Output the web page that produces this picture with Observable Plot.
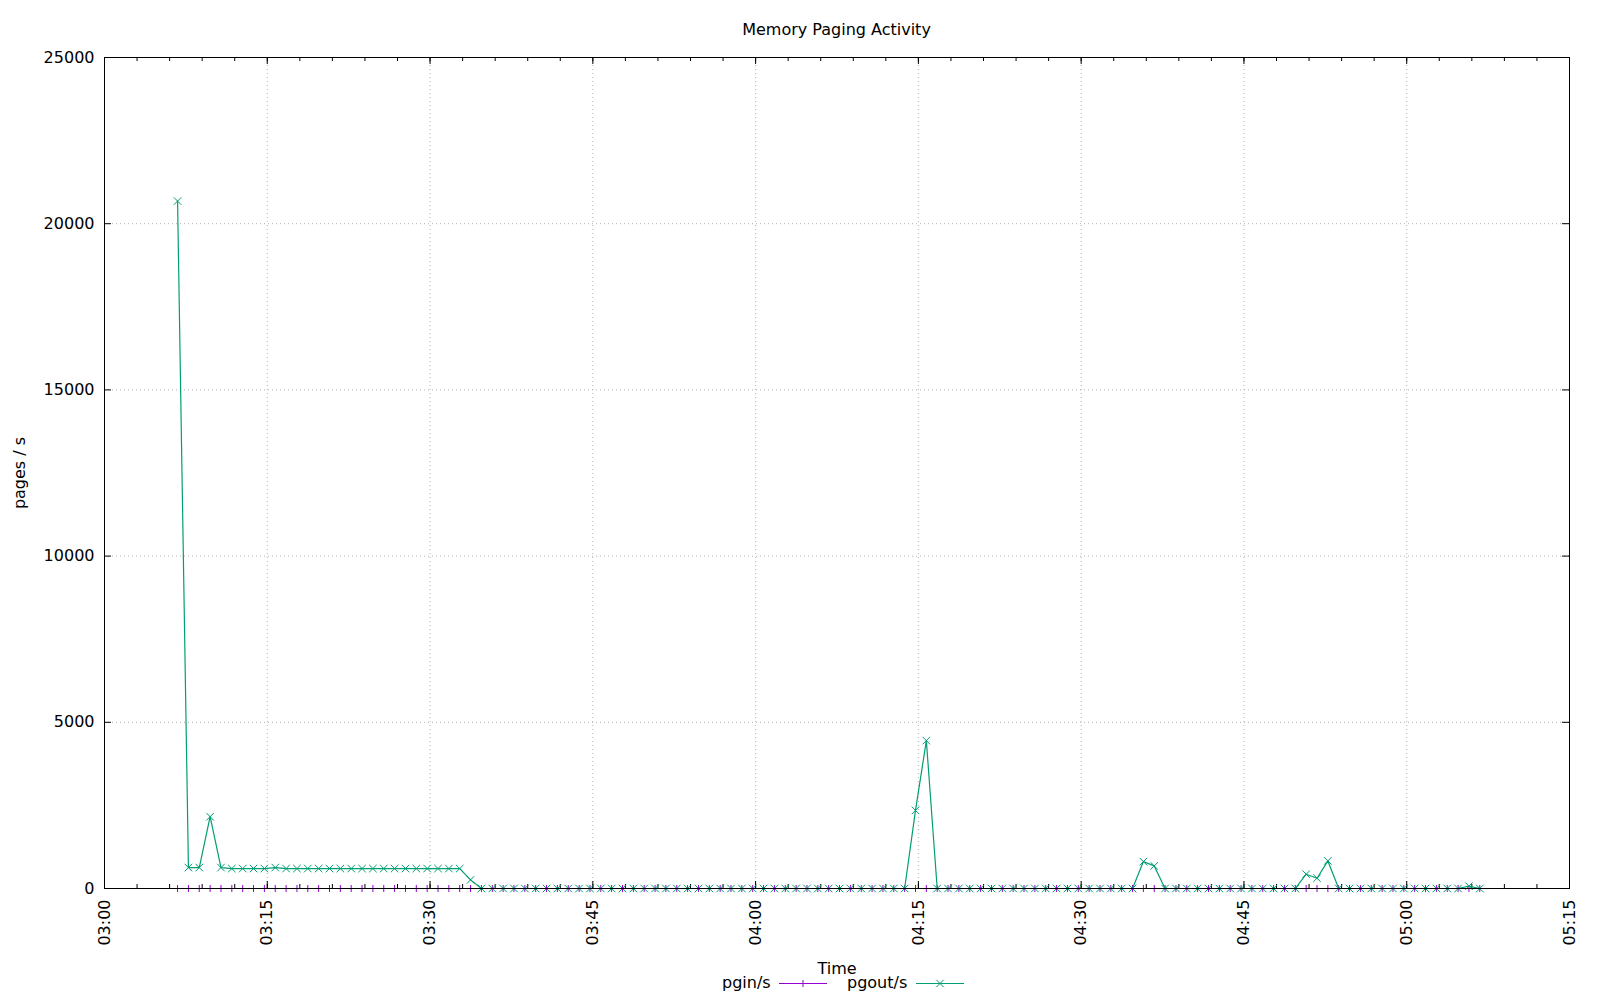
<!DOCTYPE html>
<html>
<head>
<meta charset="utf-8">
<script src="https://cdn.jsdelivr.net/npm/d3@7"></script>
<script src="https://cdn.jsdelivr.net/npm/@observablehq/plot@0.6"></script>
<style>
  html, body { margin: 0; padding: 0; background: #fff; }
  body { width: 1600px; height: 1000px; overflow: hidden; font-family: "DejaVu Sans", sans-serif; color: #000; }
  #title { box-sizing: border-box; height: 40px; padding-top: 22px; padding-left: 73px; width: 1600px; text-align: center; font-size: 16px; line-height: 16px; }
  #chart svg { display: block; }
  #legend { position: relative; height: 26px; width: 1600px; font-size: 16px; line-height: 16px; }
  #legend .lbl { position: absolute; top: 1px; white-space: nowrap; }
  #legend svg { position: absolute; top: 4px; overflow: visible; }
</style>
</head>
<body>
<div id="title">Memory Paging Activity</div>
<div id="chart"></div>
<div id="legend"></div>
<script>
// ---- data (sar samples, one per minute, at :44 s) ----
const times = [
  "03:06","03:07","03:08","03:09","03:10","03:11","03:12","03:13","03:14","03:15",
  "03:16","03:17","03:18","03:19","03:20","03:21","03:22","03:23","03:24","03:25",
  "03:26","03:27","03:28","03:29","03:30","03:31","03:32","03:33","03:34","03:35",
  "03:36","03:37","03:38","03:39","03:40","03:41","03:42","03:43","03:44","03:45",
  "03:46","03:47","03:48","03:49","03:50","03:51","03:52","03:53","03:54","03:55",
  "03:56","03:57","03:58","03:59","04:00","04:01","04:02","04:03","04:04","04:05",
  "04:06","04:07","04:08","04:09","04:10","04:11","04:12","04:13","04:14","04:15",
  "04:16","04:17","04:18","04:19","04:20","04:21","04:22","04:23","04:24","04:25",
  "04:26","04:27","04:28","04:29","04:30","04:31","04:32","04:33","04:34","04:35",
  "04:36","04:37","04:38","04:39","04:40","04:41","04:42","04:43","04:44","04:45",
  "04:46","04:47","04:48","04:49","04:50","04:51","04:52","04:53","04:54","04:55",
  "04:56","04:57","04:58","04:59","05:00","05:01","05:02","05:03","05:04","05:05",
  "05:06"
];
const pgout = [
  20680, 630, 630, 2160, 630, 600, 600, 600, 600, 630,
  600, 600, 600, 600, 600, 600, 600, 600, 600, 600,
  600, 600, 600, 600, 600, 600, 600, 260, 0, 0,
  0, 0, 0, 0, 0, 0, 0, 0, 0, 0,
  0, 0, 0, 0, 0, 0, 0, 0, 0, 0,
  0, 0, 0, 0, 0, 0, 0, 0, 0, 0,
  0, 0, 0, 0, 0, 0, 0, 0, 2350, 4450,
  0, 0, 0, 0, 0, 0, 0, 0, 0, 0,
  0, 0, 0, 0, 0, 0, 0, 0, 0, 810,
  680, 0, 0, 0, 0, 0, 0, 0, 0, 0,
  0, 0, 0, 0, 430, 310, 830, 0, 0, 0,
  0, 0, 0, 0, 0, 0, 0, 0, 0, 70,
  0
];
const pgin = [
  0,0,0,0,0,0,0,0,0,0, 0,0,0,0,0,0,0,0,0,0,
  0,0,0,0,0,0,0,0,0,0, 0,0,0,0,0,0,0,0,0,0,
  0,0,0,0,0,0,0,0,0,0, 0,0,0,0,0,0,0,0,0,0,
  0,0,0,0,0,0,0,0,0,0, 0,0,0,0,0,0,0,0,0,0,
  0,0,0,0,0,0,0,0,0,0, 0,0,0,0,0,0,0,0,0,0,
  0,0,0,0,0,0,0,0,0,0, 0,0,0,0,0,0,0,0,0,0,
  0
];
const xTickLabels = ["03:00","03:15","03:30","03:45","04:00","04:15","04:30","04:45","05:00","05:15"];
const yTickValues = [0, 5000, 10000, 15000, 20000, 25000];
const seriesNames = ["pgin/s", "pgout/s"];
const seriesColors = ["#9400d3", "#009e73"];

// ---- build ----
const parseT = s => new Date(`2024-01-01T${s.length === 5 ? s + ":44" : s}Z`);
const parseTick = s => new Date(`2024-01-01T${s}:00Z`);
const rows = times.map((t, i) => ({t: parseT(t), pgin: pgin[i], pgout: pgout[i]}));
const majorTicks = xTickLabels.map(parseTick);
const xDomain = [majorTicks[0], majorTicks[majorTicks.length - 1]];
const minorTicks = d3.utcMinute.every(3).range(xDomain[0], new Date(+xDomain[1] + 1));
const innerMajor = majorTicks.slice(1, -1);
const innerY = yTickValues.slice(1, -1);

const W = 1600, H = 934, mT = 17, mB = 86, mL = 104, mR = 31;
const plotH = H - mT - mB, plotW = W - mL - mR;
const gridStyle = {stroke: "#b0b0b0", strokeOpacity: 1, strokeWidth: 1, strokeDasharray: "1,3"};
const plusR = 2.4, timesR = 3.5;

const chart = Plot.plot({
  width: W, height: H,
  marginTop: mT, marginBottom: mB, marginLeft: mL, marginRight: mR,
  style: {fontFamily: "DejaVu Sans, sans-serif", fontSize: "16px", background: "#fff", color: "#000", overflow: "visible"},
  x: {type: "utc", domain: xDomain},
  y: {domain: [0, 25000]},
  marks: [
    Plot.gridX(innerMajor, gridStyle),
    Plot.gridY(innerY, gridStyle),
    // inward ticks (gnuplot style, mirrored)
    Plot.tickX(minorTicks, {x: d => d, insetTop: plotH - 4, stroke: "#000"}),
    Plot.tickX(minorTicks, {x: d => d, insetBottom: plotH - 4, stroke: "#000"}),
    Plot.tickX(majorTicks, {x: d => d, insetTop: plotH - 7, stroke: "#000"}),
    Plot.tickX(majorTicks, {x: d => d, insetBottom: plotH - 7, stroke: "#000"}),
    Plot.tickY(yTickValues, {y: d => d, insetRight: plotW - 7, stroke: "#000"}),
    Plot.tickY(yTickValues, {y: d => d, insetLeft: plotW - 7, stroke: "#000"}),
    Plot.axisX({ticks: majorTicks, tickFormat: d3.utcFormat("%H:%M"), tickRotate: -90, tickSize: 0, tickPadding: 11, fontSize: 16, label: null}),
    Plot.axisY({ticks: yTickValues, tickFormat: d => String(d), tickSize: 0, tickPadding: 10, fontSize: 16, label: null}),
    // series
    Plot.line(rows, {x: "t", y: "pgin", stroke: seriesColors[0], strokeWidth: 1}),
    Plot.dot(rows, {x: "t", y: "pgin", symbol: "plus", r: plusR, stroke: seriesColors[0], strokeWidth: 1}),
    Plot.line(rows, {x: "t", y: "pgout", stroke: seriesColors[1], strokeWidth: 1.2}),
    Plot.dot(rows, {x: "t", y: "pgout", symbol: "times", r: timesR, stroke: seriesColors[1], strokeWidth: 1}),
    Plot.frame({stroke: "#000", strokeWidth: 1}),
    // axis titles
    Plot.text(["Time"], {frameAnchor: "bottom", lineAnchor: "middle", textAnchor: "middle", dy: 80, fontSize: 16, fill: "#000"}),
    Plot.text(["pages / s"], {frameAnchor: "left", lineAnchor: "middle", textAnchor: "middle", dx: -85, dy: 0, rotate: -90, fontSize: 16, fill: "#000"})
  ]
});
document.getElementById("chart").appendChild(chart);

// ---- legend (gnuplot-style key below the chart) ----
const legend = document.getElementById("legend");
const items = [
  {name: seriesNames[0], color: seriesColors[0], symbol: d3.symbolPlus, r: plusR, textLeft: 722, sampleLeft: 779},
  {name: seriesNames[1], color: seriesColors[1], symbol: d3.symbolTimes, r: timesR, textLeft: 847, sampleLeft: 916}
];
for (const it of items) {
  const lbl = document.createElement("span");
  lbl.className = "lbl";
  lbl.style.left = it.textLeft + "px";
  lbl.textContent = it.name;
  legend.appendChild(lbl);
  const svg = d3.create("svg").attr("width", 48).attr("height", 10).style("left", it.sampleLeft + "px");
  svg.append("line").attr("x1", 0).attr("x2", 48).attr("y1", 5.5).attr("y2", 5.5).attr("stroke", it.color).attr("stroke-width", 1);
  svg.append("path").attr("d", d3.symbol(it.symbol, it.r * it.r * Math.PI)()).attr("transform", "translate(24,5.5)")
     .attr("fill", "none").attr("stroke", it.color).attr("stroke-width", 1);
  legend.appendChild(svg.node());
}
</script>
</body>
</html>
